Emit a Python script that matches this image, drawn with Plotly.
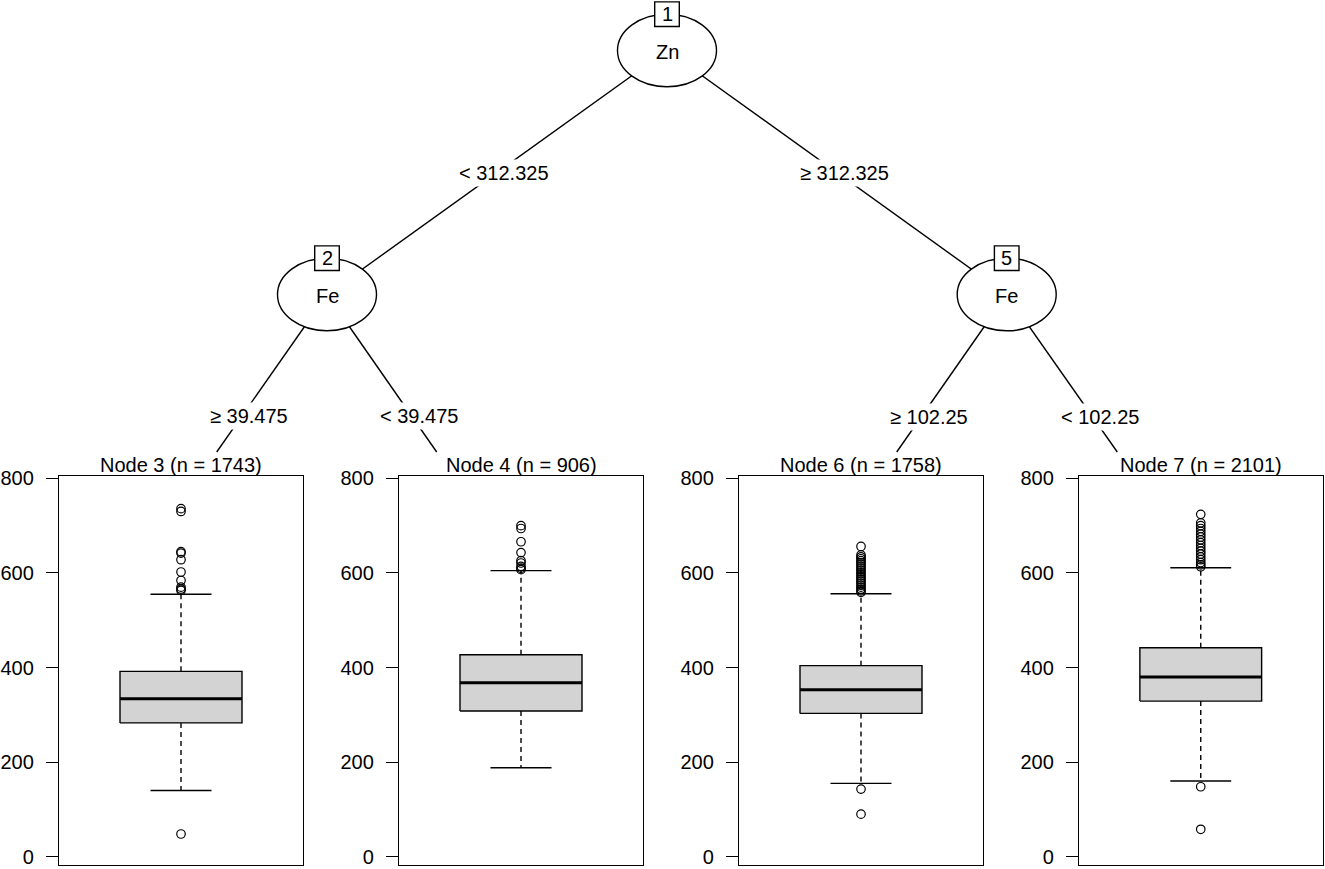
import plotly.graph_objects as go

# ---------------- data ----------------
node_ids = [1, 2, 5]
split_vars = ["Zn", "Fe", "Fe"]
edge_labels = ["< 312.325", "≥ 312.325", "≥ 39.475", "< 39.475", "≥ 102.25", "< 102.25"]

leaf_ids = [3, 4, 6, 7]
leaf_n = [1743, 906, 1758, 2101]
q1 = [283, 308, 303, 329]
median = [334, 368, 353, 380]
q3 = [392, 427, 404, 442]
lower_fence = [140, 188, 155, 160]
upper_fence = [555, 605, 556, 611]
outliers = [
    [736, 730, 645, 642, 628, 602, 584, 570, 566, 563, 48],
    [700, 694, 666, 643, 626, 621, 614, 610, 607],
    [656, 638, 634, 630, 626, 622, 618, 614, 610, 606, 602, 598, 594, 590,
     586, 582, 578, 574, 570, 566, 562, 559, 143, 90],
    [724, 706, 700, 694, 688, 682, 676, 670, 664, 658, 652, 646, 640, 634,
     628, 622, 617, 613, 148, 58],
]
y_ticks = [0, 200, 400, 600, 800]

# ---------------- layout / style ----------------
W, H = 1325, 869
FONT = "Liberation Sans, Arial, Helvetica, sans-serif"
FS = 20
LW = 1.4

# tree geometry in pixel space (layout, not data)
inner_pos = {1: (667, 50.5), 2: (327, 294.5), 5: (1006.7, 294.5)}
leaf_top = {3: (216.7, 452), 4: (436.7, 452), 6: (896.7, 452), 7: (1117.3, 452)}
edges = [(1, 2), (1, 5), (2, 3), (2, 4), (5, 6), (5, 7)]
label_pos = [(504, 173), (844, 173), (248.7, 416), (418.8, 416), (929, 416.7), (1099.5, 416.7)]
RX, RY = 49.5, 36.3
BOXS = 12.3

panel_x = [(59, 303), (399, 643), (739, 983), (1079, 1322.5)]
panel_y = (476, 865)
Y_RANGE = [-17.5, 805]

fig = go.Figure()

# ---------------- box panels ----------------
for i in range(4):
    k = i + 1
    xa = "x" if k == 1 else f"x{k}"
    ya = "y" if k == 1 else f"y{k}"
    x0, x1 = 0.25, 0.75
    c0, c1 = 0.375, 0.625
    # whiskers (dashed)
    for a, b in [(q3[i], upper_fence[i]), (q1[i], lower_fence[i])]:
        fig.add_trace(go.Scatter(x=[0.5, 0.5], y=[a, b], mode="lines",
                                 line=dict(color="black", width=LW, dash="5px,4px"),
                                 xaxis=xa, yaxis=ya, showlegend=False, hoverinfo="skip"))
    # caps
    for v in [upper_fence[i], lower_fence[i]]:
        fig.add_trace(go.Scatter(x=[c0, c1], y=[v, v], mode="lines",
                                 line=dict(color="black", width=LW),
                                 xaxis=xa, yaxis=ya, showlegend=False, hoverinfo="skip"))
    # box
    fig.add_trace(go.Scatter(x=[x0, x1, x1, x0, x0], y=[q1[i], q1[i], q3[i], q3[i], q1[i]],
                             mode="lines", fill="toself", fillcolor="#D3D3D3",
                             line=dict(color="black", width=LW),
                             xaxis=xa, yaxis=ya, showlegend=False, hoverinfo="skip"))
    # median
    fig.add_trace(go.Scatter(x=[x0, x1], y=[median[i], median[i]], mode="lines",
                             line=dict(color="black", width=3),
                             xaxis=xa, yaxis=ya, showlegend=False, hoverinfo="skip"))
    # outliers
    fig.add_trace(go.Scatter(x=[0.5] * len(outliers[i]), y=outliers[i], mode="markers",
                             marker=dict(symbol="circle-open", size=8.5, color="black",
                                         line=dict(width=1.2, color="black")),
                             xaxis=xa, yaxis=ya, showlegend=False, hoverinfo="skip"))

    px0, px1 = panel_x[i]
    fig.layout[f"xaxis{'' if k == 1 else k}"] = dict(
        domain=[px0 / W, px1 / W], range=[0, 1], showticklabels=False, ticks="",
        showgrid=False, zeroline=False, showline=True, linecolor="black", linewidth=LW,
        mirror=True, anchor=ya, fixedrange=True, automargin=False)
    fig.layout[f"yaxis{'' if k == 1 else k}"] = dict(
        domain=[(H - panel_y[1]) / H, (H - panel_y[0]) / H], range=Y_RANGE,
        tickvals=y_ticks, ticktext=[str(v) for v in y_ticks], ticks="outside", ticklen=12,
        tickwidth=LW, tickcolor="black", showgrid=False, zeroline=False, showline=True,
        linecolor="black", linewidth=LW, mirror=True, anchor=xa,
        tickfont=dict(family=FONT, size=FS, color="black"), ticklabelstandoff=8,
        fixedrange=True, automargin=False)

# ---------------- tree overlay axis ----------------
fig.update_layout(
    xaxis5=dict(domain=[0, 1], range=[0, W], visible=False, fixedrange=True, anchor="y5",
                automargin=False),
    yaxis5=dict(domain=[0, 1], range=[H, 0], visible=False, fixedrange=True, anchor="x5",
                automargin=False),
)
fig.add_trace(go.Scatter(x=[], y=[], xaxis="x5", yaxis="y5", showlegend=False))

shapes = []
for (a, b) in edges:
    xa0, ya0 = inner_pos[a]
    xb, yb = inner_pos[b] if b in inner_pos else leaf_top[b]
    shapes.append(dict(type="line", xref="x5", yref="y5", x0=xa0, y0=ya0, x1=xb, y1=yb,
                       line=dict(color="black", width=LW), layer="above"))
for nid in node_ids:
    cx, cy = inner_pos[nid]
    shapes.append(dict(type="circle", xref="x5", yref="y5", x0=cx - RX, x1=cx + RX,
                       y0=cy - RY, y1=cy + RY, fillcolor="white",
                       line=dict(color="black", width=LW), layer="above"))
    by = max(cy - RY, BOXS + 0.5)
    shapes.append(dict(type="rect", xref="x5", yref="y5", x0=cx - BOXS, x1=cx + BOXS,
                       y0=by - BOXS, y1=by + BOXS, fillcolor="white",
                       line=dict(color="black", width=LW), layer="above"))
fig.update_layout(shapes=shapes)

ann = []
for nid, var in zip(node_ids, split_vars):
    cx, cy = inner_pos[nid]
    by = max(cy - RY, BOXS + 0.5)
    ann.append(dict(x=cx, y=cy + 1, xref="x5", yref="y5", text=var, showarrow=False,
                    font=dict(family=FONT, size=FS, color="black")))
    ann.append(dict(x=cx, y=by, xref="x5", yref="y5", text=str(nid), showarrow=False,
                    font=dict(family=FONT, size=FS, color="black")))
for (lx, ly), t in zip(label_pos, edge_labels):
    ann.append(dict(x=lx, y=ly, xref="x5", yref="y5", text=t, showarrow=False,
                    bgcolor="white", borderpad=2,
                    font=dict(family=FONT, size=FS, color="black")))
for i, (nid, n) in enumerate(zip(leaf_ids, leaf_n)):
    px0, px1 = panel_x[i]
    ann.append(dict(x=(px0 + px1) / 2, y=465, xref="x5", yref="y5",
                    text=f"Node {nid} (n = {n})", showarrow=False,
                    font=dict(family=FONT, size=FS, color="black")))
fig.update_layout(annotations=ann)

fig.update_layout(width=W, height=H, margin=dict(l=0, r=0, t=0, b=0, pad=0),
                  paper_bgcolor="white", plot_bgcolor="rgba(0,0,0,0)",
                  showlegend=False, font=dict(family=FONT, size=FS, color="black"))

fix_js = (
    "document.documentElement.style.margin='0';"
    "document.body.style.margin='0';document.body.style.padding='0';"
    "document.body.style.overflow='hidden';"
    "var d=document.getElementById('{plot_id}');"
    "d.style.position='absolute';d.style.left='0px';d.style.top='0px';"
)
fig.write_html("out.html", config={"displayModeBar": False}, post_script=fix_js)
